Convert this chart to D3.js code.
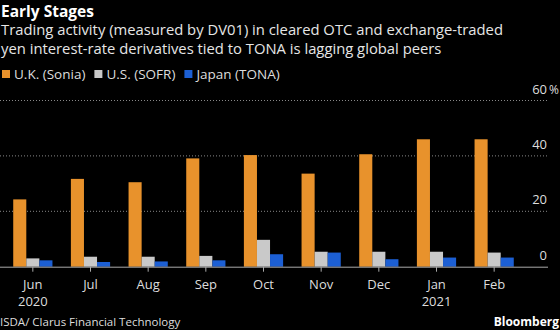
<!DOCTYPE html>
<html>
<head>
<meta charset="utf-8">
<script src="https://cdn.jsdelivr.net/npm/d3@7"></script>
<style>
  body { margin: 0; background: #000; }
  svg { display: block; }
</style>
</head>
<body>
<svg id="chart" width="560" height="330"></svg>
<script>
const svg = d3.select("#chart");
const width = +svg.attr("width");
const height = +svg.attr("height");
const fontFamily = "'Open Sans', sans-serif";

// monthly share of DV01 traded, in %
const months = ["Jun", "Jul", "Aug", "Sep", "Oct", "Nov", "Dec", "Jan", "Feb"];
const years = ["2020", "", "", "", "", "", "", "2021", ""];
const uk = [24.3, 31.7, 30.5, 39.1, 40.3, 33.6, 40.6, 46.0, 46.0];
const us = [3.0, 3.6, 3.6, 3.9, 9.7, 5.4, 5.4, 5.4, 5.1];
const japan = [2.3, 1.7, 1.9, 2.3, 4.5, 5.1, 2.7, 3.3, 3.3];
const yTicks = [0, 20, 40, 60];

const seriesNames = ["U.K. (Sonia)", "U.S. (SOFR)", "Japan (TONA)"];
const seriesColors = ["#e8922c", "#c9c9c9", "#1c5fd4"];
const seriesValues = [uk, us, japan];

svg.append("rect").attr("width", width).attr("height", height).attr("fill", "#000");

// title block
svg.append("text")
  .attr("x", 1).attr("y", 16.5)
  .attr("fill", "#fff").attr("font-family", fontFamily)
  .attr("font-weight", "bold").attr("font-size", 15.5)
  .text("Early Stages");

const subtitle = [
  "Trading activity (measured by DV01) in cleared OTC and exchange-traded",
  "yen interest-rate derivatives tied to TONA is lagging global peers"
];
svg.selectAll(".sub").data(subtitle).join("text")
  .attr("class", "sub")
  .attr("x", 1).attr("y", (d, i) => 35 + i * 18.5)
  .attr("fill", "#e6e6e6").attr("font-family", fontFamily)
  .attr("font-size", 14.8)
  .text(d => d);

// legend
const legend = svg.append("g").attr("font-family", fontFamily).attr("font-size", 13.5);
let lx = 2;
seriesNames.forEach((name, i) => {
  legend.append("rect").attr("x", lx).attr("y", 70).attr("width", 8).attr("height", 8)
    .attr("fill", seriesColors[i]);
  const t = legend.append("text").attr("x", lx + 12).attr("y", 79)
    .attr("fill", "#ddd").text(name);
  lx += 12 + t.node().getComputedTextLength() + 9;
});

// scales
const x = d3.scaleBand()
  .domain(months.map((m, i) => i))
  .range([4, 523])
  .paddingInner(0.32)
  .paddingOuter(0.16);

const xSub = d3.scaleBand()
  .domain(d3.range(seriesNames.length))
  .range([0, x.bandwidth()]);

const y = d3.scaleLinear()
  .domain([0, 60])
  .range([266.7, 100.5]);

// gridlines and y labels
const grid = svg.append("g");
grid.selectAll("line").data(yTicks.filter(d => d > 0)).join("line")
  .attr("x1", 0).attr("x2", 548)
  .attr("y1", d => y(d)).attr("y2", d => y(d))
  .attr("stroke", "#888").attr("stroke-width", 1)
  .attr("stroke-dasharray", "1,2");

grid.selectAll("text").data(yTicks).join("text")
  .attr("x", 547).attr("y", d => y(d) - 7)
  .attr("text-anchor", "end")
  .attr("fill", "#ddd").attr("font-family", fontFamily).attr("font-size", 13)
  .text(d => d);

svg.append("text")
  .attr("x", 559).attr("y", y(60) - 7)
  .attr("text-anchor", "end")
  .attr("fill", "#ddd").attr("font-family", fontFamily).attr("font-size", 12)
  .text("%");

// bars
const groups = svg.append("g").selectAll("g").data(months).join("g")
  .attr("transform", (d, i) => `translate(${x(i)},0)`);

groups.selectAll("rect")
  .data((d, i) => seriesValues.map((vals, s) => ({s, v: vals[i]})))
  .join("rect")
  .attr("x", d => xSub(d.s))
  .attr("width", xSub.bandwidth())
  .attr("y", d => y(d.v))
  .attr("height", d => y(0) - y(d.v))
  .attr("fill", d => seriesColors[d.s]);

// x axis
const xAxis = svg.append("g")
  .attr("transform", `translate(0,${y(0)})`)
  .call(d3.axisBottom(x).tickSize(5).tickSizeOuter(0).tickFormat(i => months[i]));
xAxis.select(".domain").attr("d", "M0,0.5H548").attr("stroke", "#aaa");
xAxis.selectAll(".tick line").attr("stroke", "#aaa");
xAxis.selectAll(".tick text")
  .attr("fill", "#ddd").attr("font-family", fontFamily).attr("font-size", 13)
  .attr("y", 22).attr("dy", null);
xAxis.selectAll(".tick").append("text")
  .attr("y", 39).attr("fill", "#ddd")
  .attr("font-family", fontFamily).attr("font-size", 13)
  .text((d, i) => years[i]);

// footer
svg.append("text")
  .attr("x", 0).attr("y", 326)
  .attr("fill", "#ddd").attr("font-family", fontFamily).attr("font-size", 11.5)
  .text("ISDA/ Clarus Financial Technology");

svg.append("text")
  .attr("x", 559).attr("y", 326)
  .attr("text-anchor", "end")
  .attr("fill", "#fff").attr("font-family", fontFamily)
  .attr("font-weight", "bold").attr("font-size", 12)
  .text("Bloomberg");
</script>
</body>
</html>
